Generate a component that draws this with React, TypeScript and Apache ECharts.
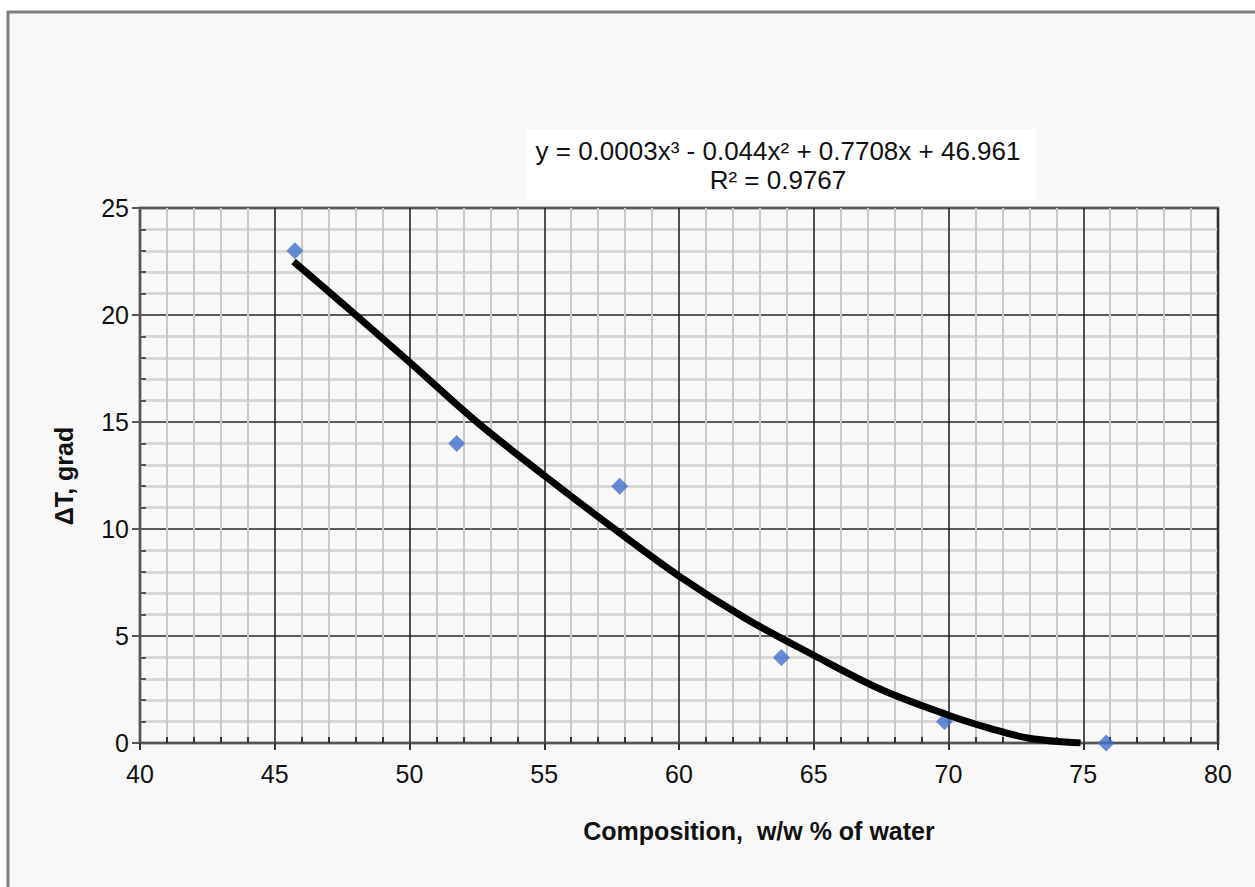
import React, { useEffect, useRef } from "react";
import * as echarts from "echarts";

const pointX = [45.75, 51.75, 57.8, 63.8, 69.85, 75.85];
const pointY = [23, 14, 12, 4, 1, 0];

const trendX = [45.7, 47.5, 50, 52.5, 55, 57.5, 60, 62.5, 65, 67.5, 70, 71.5, 73, 74.9];
const trendY = [22.5, 20.55, 17.8, 15.0, 12.5, 10.1, 7.8, 5.8, 4.1, 2.5, 1.3, 0.7, 0.22, 0];

const equationLines = ["y = 0.0003x³ - 0.044x² + 0.7708x + 46.961", "R² = 0.9767"];
const xAxisTitle = "Composition,  w/w % of water";
const yAxisTitle = "ΔT, grad";

const FONT = "'Liberation Sans', Arial, sans-serif";

export default function App() {
  const ref = useRef<HTMLDivElement>(null);
  useEffect(() => {
    document.body.style.margin = "0";
    const chart = echarts.init(ref.current!, null, { renderer: "svg" });
    chart.setOption({
      animation: false,
      backgroundColor: "#ffffff",
      textStyle: { fontFamily: FONT },
      grid: {
        left: 140,
        right: 37,
        top: 208,
        bottom: 144,
        show: true,
        backgroundColor: "#f8f8f8",
        borderColor: "#7f7f7f",
        borderWidth: 3,
      },
      graphic: [
        {
          type: "rect",
          z: -10,
          shape: { x: 8, y: 12, width: 1400, height: 1000 },
          style: { fill: "#f8f8f8", stroke: "#7f7f7f", lineWidth: 3 },
        },
        {
          type: "rect",
          z: 10,
          shape: { x: 526, y: 129, width: 510, height: 71 },
          style: { fill: "#ffffff" },
        },
        {
          type: "text",
          z: 11,
          x: 778,
          y: 151,
          style: {
            text: equationLines[0],
            font: `26px ${FONT}`,
            fill: "#111",
            textAlign: "center",
            textVerticalAlign: "middle",
          },
        },
        {
          type: "text",
          z: 11,
          x: 778,
          y: 180,
          style: {
            text: equationLines[1],
            font: `26px ${FONT}`,
            fill: "#111",
            textAlign: "center",
            textVerticalAlign: "middle",
          },
        },
        {
          type: "text",
          z: 11,
          x: 759,
          y: 831,
          style: {
            text: xAxisTitle,
            font: `bold 25px ${FONT}`,
            fill: "#111",
            textAlign: "center",
            textVerticalAlign: "middle",
          },
        },
        {
          type: "text",
          z: 11,
          x: 64,
          y: 476,
          rotation: Math.PI / 2,
          style: {
            text: yAxisTitle,
            font: `bold 25px ${FONT}`,
            fill: "#111",
            textAlign: "center",
            textVerticalAlign: "middle",
          },
        },
      ],
      xAxis: {
        type: "value",
        min: 40,
        max: 80,
        interval: 5,
        axisLine: { show: true, onZero: false, lineStyle: { color: "#555", width: 2 } },
        axisTick: { show: true, length: 7, lineStyle: { color: "#333", width: 2 } },
        minorTick: { show: true, splitNumber: 5, length: -6, lineStyle: { color: "#333", width: 2 } },
        splitLine: { show: true, lineStyle: { color: "#1a1a1a", width: 1.5 } },
        minorSplitLine: { show: true, lineStyle: { color: "#c8c8c8", width: 2 } },
        axisLabel: { fontSize: 25, color: "#111", margin: 18, fontFamily: FONT },
      },
      yAxis: {
        type: "value",
        min: 0,
        max: 25,
        interval: 5,
        axisLine: { show: true, onZero: false, lineStyle: { color: "#555", width: 2 } },
        axisTick: { show: true, length: 8, lineStyle: { color: "#555", width: 2 } },
        minorTick: { show: true, splitNumber: 5, length: -6, lineStyle: { color: "#555", width: 2 } },
        splitLine: { show: true, lineStyle: { color: "#5a5a5a", width: 2 } },
        minorSplitLine: { show: true, lineStyle: { color: "#d8d8d8", width: 3 } },
        axisLabel: { fontSize: 25, color: "#111", margin: 11, fontFamily: FONT },
      },
      series: [
        {
          type: "scatter",
          z: 3,
          symbol: "diamond",
          symbolSize: 17,
          itemStyle: { color: "#3f70cc" },
          data: pointX.map((x, i) => [x, pointY[i]]),
        },
        {
          type: "line",
          z: 4,
          smooth: 0.35,
          showSymbol: false,
          symbol: "none",
          lineStyle: { color: "#000000", width: 7 },
          data: trendX.map((x, i) => [x, trendY[i]]),
        },
      ],
    });
    return () => chart.dispose();
  }, []);
  return <div ref={ref} style={{ width: 1255, height: 887 }} />;
}
